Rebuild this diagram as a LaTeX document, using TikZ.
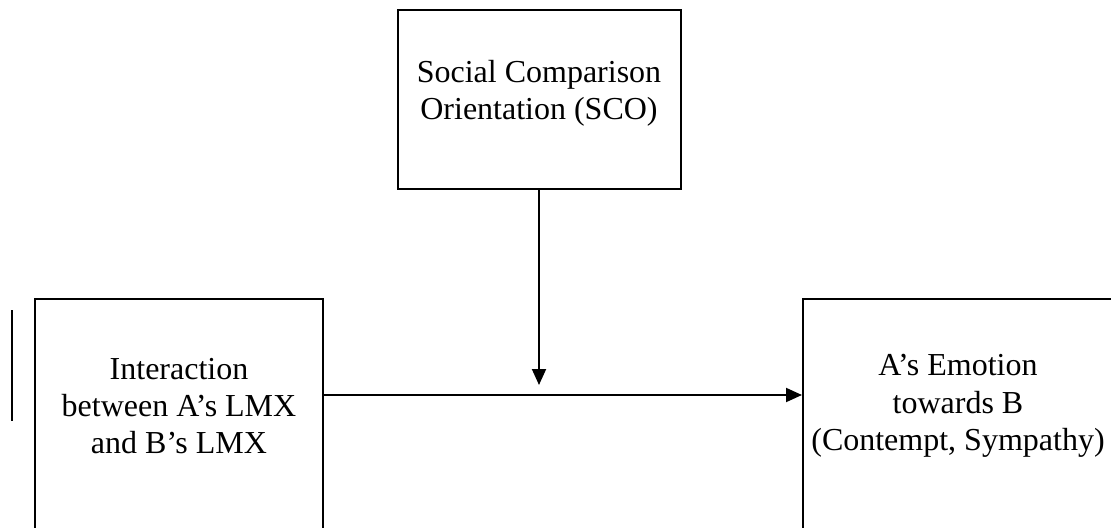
\documentclass[tikz,border=0pt]{standalone}
\usepackage{fontspec}
\setmainfont{Liberation Serif}
\usepackage{tikz}
\usetikzlibrary{arrows.meta,positioning}
\tikzset{
  boxnd/.style={draw,line width=1.5pt,inner sep=0pt},
  boxtxt/.style={align=center,font=\fontsize{24}{28}\selectfont},
  arr/.style={-{Triangle[length=12pt,width=10.5pt]},line width=1.4pt},
}
\begin{document}
\begin{tikzpicture}[x=0.75pt,y=-0.75pt]
        \useasboundingbox (0,0) rectangle (1111,528);
        \clip (0,0) rectangle (1111,528);
        % moderator on top
        \node[boxnd,minimum width=283*0.75pt,minimum height=179*0.75pt] (sco) at (539,99.5) {};
        \node[boxtxt] (scot) at (539,93) {Social Comparison\\Orientation (SCO)};
        % predictor and outcome (cut off at the bottom)
        \node[boxnd,minimum width=288*0.75pt,minimum height=261*0.75pt] (lmx) at (179,429.5) {};
        \node[boxtxt] (lmxt) at (179,406) {Interaction\\between A’s LMX\\and B’s LMX};
        \node[boxnd,minimum width=317*0.75pt,minimum height=261*0.75pt] (emo) at (961.5,429.5) {};
        \node[boxtxt] (emot) at (958,406) {A’s Emotion\\towards B\\(Contempt, Sympathy)};
        % paths
        \coordinate (mid) at (539,395);
        \draw[arr] (lmx.east |- mid) -- (emo.west |- mid);
        \draw[arr] (sco.south) -- ([yshift=7.5pt]mid);
        % margin mark
        \draw[line width=1.7pt] (12,310) -- (12,421);
      \end{tikzpicture}
\end{document}
